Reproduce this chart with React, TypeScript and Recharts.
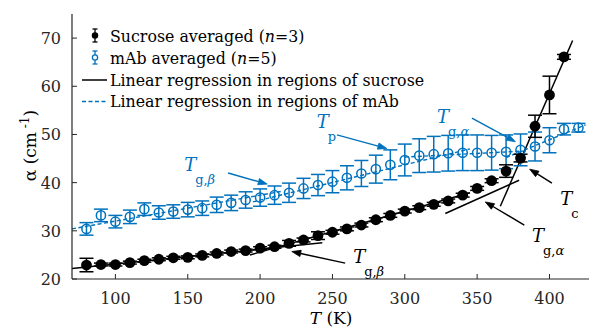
import React from "react";
import {
  ComposedChart,
  Scatter,
  Line,
  XAxis,
  YAxis,
  ErrorBar,
  ReferenceLine,
  ReferenceDot,
} from "recharts";

const BLUE = "#0072BD";
const AX = "#262626";
const FONT = '"DejaVu Serif", "Liberation Serif", serif';
const serif = { fontFamily: FONT };

// sucrose, averaged over 3 samples
const sucroseT = [
  80, 90, 100, 110, 120, 130, 140, 150, 160, 170, 180, 190, 200, 210, 220, 230, 240,
  250, 260, 270, 280, 290, 300, 310, 320, 330, 340, 350, 360, 370, 380, 390, 400, 410,
];
const sucroseAlpha = [
  22.9, 23.0, 23.0, 23.4, 23.8, 24.1, 24.4, 24.5, 24.9, 25.3, 25.7, 25.9, 26.4, 26.7, 27.4, 28.1, 29.0,
  29.7, 30.4, 31.2, 32.3, 33.2, 34.1, 34.8, 35.5, 36.2, 37.4, 38.8, 40.4, 42.4, 45.1, 51.7, 58.2, 66.1,
];
const sucroseErr = [
  1.4, 0.3, 0.3, 0.3, 0.3, 0.3, 0.3, 0.3, 0.3, 0.3, 0.3, 0.3, 0.3, 0.3, 0.6, 0.4, 0.8,
  0.4, 0.4, 0.4, 0.4, 0.4, 0.4, 0.4, 0.4, 0.4, 0.4, 0.4, 0.4, 1.3, 0.8, 2.3, 3.9, 0.5,
];

// mAb, averaged over 5 samples
const mabT = [
  80, 90, 100, 110, 120, 130, 140, 150, 160, 170, 180, 190, 200, 210, 220, 230, 240, 250,
  260, 270, 280, 290, 300, 310, 320, 330, 340, 350, 360, 370, 380, 390, 400, 410, 420,
];
const mabAlpha = [
  30.4, 33.2, 31.9, 32.9, 34.5, 33.8, 34.0, 34.4, 34.7, 35.4, 35.8, 36.4, 36.9, 37.4, 37.9, 38.8, 39.5, 40.2,
  41.0, 41.9, 42.8, 43.7, 44.7, 45.6, 45.9, 46.1, 46.2, 46.2, 46.2, 46.4, 46.8, 47.5, 48.8, 51.1, 51.4,
];
const mabErr = [
  1.3, 1.3, 1.3, 1.4, 1.3, 1.4, 1.4, 1.5, 1.5, 1.6, 1.6, 1.7, 1.8, 1.9, 2.0, 2.1, 2.2, 2.3,
  2.5, 2.7, 2.9, 3.1, 3.3, 3.5, 3.7, 3.7, 3.7, 3.7, 3.6, 3.5, 3.3, 3.0, 2.6, 1.2, 0.9,
];

// regression segments [T0, a0, T1, a1]
const sucroseFits = [
  [70, 22.2, 243, 27.5],
  [193, 25.0, 345, 37.9],
  [328, 33.6, 379, 40.5],
  [366, 35.1, 416, 69.5],
];
const mabFits = [
  [70, 30.4, 215, 38.2],
  [195, 36.0, 345, 47.0],
  [300, 45.3, 385, 46.6],
  [370, 45.2, 425, 52.0],
];

// annotations: subscript, which series, label anchor, arrow start, arrow tip
const notes = [
  { sub: "p", greek: "", series: "mab", at: [239.2, 51.3], from: [253.1, 49.9], to: [287.6, 47.1] },
  { sub: "g,", greek: "α", series: "mab", at: [322.2, 52.3], from: [346.4, 53.4], to: [376.4, 48.5] },
  { sub: "g,", greek: "β", series: "mab", at: [147.5, 42.4], from: [177.9, 42.0], to: [204.9, 39.7] },
  { sub: "g,", greek: "β", series: "sucrose", at: [264.3, 23.3], from: [258.8, 23.3], to: [221.9, 25.7] },
  { sub: "g,", greek: "α", series: "sucrose", at: [387.9, 27.7], from: [382.6, 31.2], to: [355.6, 36.0] },
  { sub: "c", greek: "", series: "sucrose", at: [407.5, 35.4], from: [401.7, 39.9], to: [386.3, 42.8] },
];

const xTicks = [100, 150, 200, 250, 300, 350, 400];
const yTicks = [20, 30, 40, 50, 60, 70];

const sucroseData = sucroseT.map((T, i) => ({ T, a: sucroseAlpha[i], e: sucroseErr[i] }));
const mabData = mabT.map((T, i) => ({ T, a: mabAlpha[i], e: mabErr[i] }));
const toSeg = (f: number[]) => [
  { T: f[0], a: f[1] },
  { T: f[2], a: f[3] },
];

const BottomTick = (p: any) => (
  <g>
    <line x1={p.x} y1={p.y} x2={p.x} y2={p.y - 5} stroke={AX} />
    <text x={p.x} y={p.y + 25} textAnchor="middle" fontSize={16} fill={AX} style={serif}>
      {p.payload.value}
    </text>
  </g>
);
const TopTick = (p: any) => <line x1={p.x} y1={p.y} x2={p.x} y2={p.y + 5} stroke={AX} />;
const LeftTick = (p: any) => (
  <g>
    <line x1={p.x} y1={p.y} x2={p.x + 5} y2={p.y} stroke={AX} />
    <text x={p.x - 11} y={p.y + 6} textAnchor="end" fontSize={16} fill={AX} style={serif}>
      {p.payload.value}
    </text>
  </g>
);
const RightTick = (p: any) => <line x1={p.x} y1={p.y} x2={p.x - 5} y2={p.y} stroke={AX} />;

const arrow = (color: string) => (p: any) => {
  const { x1, y1, x2, y2 } = p;
  const ang = Math.atan2(y2 - y1, x2 - x1);
  const L = 9;
  const W = 3.2;
  const bx = x2 - L * Math.cos(ang);
  const by = y2 - L * Math.sin(ang);
  const pts = `${x2},${y2} ${bx - W * Math.sin(ang)},${by + W * Math.cos(ang)} ${bx + W * Math.sin(ang)},${by - W * Math.cos(ang)}`;
  return (
    <g>
      <line x1={x1} y1={y1} x2={bx} y2={by} stroke={color} strokeWidth={1.4} />
      <polygon points={pts} fill={color} stroke={color} strokeWidth={0.8} />
    </g>
  );
};

const noteLabel = (n: (typeof notes)[number], color: string) => (p: any) => (
  <g fill={color} style={serif}>
    <text x={p.cx} y={p.cy} fontSize={18} fontStyle="italic" style={serif}>
      T
    </text>
    <text x={p.cx + 11} y={p.cy + 13} fontSize={13} style={serif}>
      {n.sub}
      {n.greek && <tspan fontStyle="italic">{n.greek}</tspan>}
    </text>
  </g>
);

const dotShape = (p: any) => <circle cx={p.cx} cy={p.cy} r={5.4} fill="#000" />;
const ringShape = (p: any) => (
  <circle cx={p.cx} cy={p.cy} r={4.6} fill="none" stroke={BLUE} strokeWidth={1.5} />
);

function Legend() {
  const rows = [42, 64, 85.5, 107];
  return (
    <svg width={589} height={327} style={{ position: "absolute", left: 0, top: 0, pointerEvents: "none" }}>
      <g stroke="#000" strokeWidth={1.3}>
        <line x1={95} y1={rows[0] - 13} x2={95} y2={rows[0]} />
        <line x1={92.5} y1={rows[0] - 13} x2={97.5} y2={rows[0] - 13} />
        <line x1={92.5} y1={rows[0]} x2={97.5} y2={rows[0]} />
        <circle cx={95} cy={rows[0] - 6.5} r={2.6} fill="#000" />
      </g>
      <g stroke={BLUE} strokeWidth={1.3}>
        <line x1={95} y1={rows[1] - 13} x2={95} y2={rows[1]} />
        <line x1={92.5} y1={rows[1] - 13} x2={97.5} y2={rows[1] - 13} />
        <line x1={92.5} y1={rows[1]} x2={97.5} y2={rows[1]} />
        <circle cx={95} cy={rows[1] - 6.5} r={2.6} fill="#fff" />
      </g>
      <line x1={82} y1={rows[2] - 5.5} x2={107} y2={rows[2] - 5.5} stroke="#000" strokeWidth={1.5} />
      <line x1={82} y1={rows[3] - 5.5} x2={107} y2={rows[3] - 5.5} stroke={BLUE} strokeWidth={1.5} strokeDasharray="4 2.5" />
      <g fontSize={15.8} fill="#000" style={serif}>
        <text x={110} y={rows[0]} style={serif}>
          Sucrose averaged (<tspan fontStyle="italic">n</tspan>=3)
        </text>
        <text x={110} y={rows[1]} style={serif}>
          mAb averaged (<tspan fontStyle="italic">n</tspan>=5)
        </text>
        <text x={110} y={rows[2]} style={serif}>
          Linear regression in regions of sucrose
        </text>
        <text x={110} y={rows[3]} style={serif}>
          Linear regression in regions of mAb
        </text>
      </g>
    </svg>
  );
}

export default function App() {
  return (
    <div
      style={{
        position: "absolute",
        left: 0,
        top: 0,
        width: 589,
        height: 327,
        overflow: "hidden",
        background: "#fff",
        fontFamily: FONT,
      }}
    >
      <ComposedChart width={600} height={327} margin={{ top: 14, right: 10, bottom: 0, left: 0 }}>
        <XAxis
          dataKey="T"
          type="number"
          domain={[70, 428]}
          ticks={xTicks}
          height={48}
          tickSize={0}
          tickMargin={0}
          tickLine={false}
          tick={(p: any) => <BottomTick {...p} />}
          axisLine={{ stroke: AX, strokeWidth: 1.2 }}
          allowDataOverflow
          label={{
            content: (l: any) => (
              <text
                x={l.viewBox.x + l.viewBox.width / 2}
                y={l.viewBox.y + 45}
                textAnchor="middle"
                fontSize={17}
                fill="#000"
                style={serif}
              >
                <tspan fontStyle="italic">T</tspan> (K)
              </text>
            ),
          }}
        />
        <XAxis
          xAxisId="top"
          dataKey="T"
          type="number"
          orientation="top"
          domain={[70, 428]}
          ticks={xTicks}
          height={0}
          tickSize={0}
          tickMargin={0}
          tickLine={false}
          tick={(p: any) => <TopTick {...p} />}
          axisLine={{ stroke: AX, strokeWidth: 1.2 }}
          allowDataOverflow
        />
        <YAxis
          type="number"
          domain={[20, 75]}
          ticks={yTicks}
          width={72}
          tickSize={0}
          tickMargin={0}
          tickLine={false}
          tick={(p: any) => <LeftTick {...p} />}
          axisLine={{ stroke: AX, strokeWidth: 1.2 }}
          allowDataOverflow
          label={{
            content: (l: any) => {
              const cy = l.viewBox.y + l.viewBox.height / 2 - 1;
              return (
                <text
                  x={36}
                  y={cy}
                  transform={`rotate(-90, 36, ${cy})`}
                  textAnchor="middle"
                  fontSize={17}
                  fill="#000"
                  style={serif}
                >
                  α (cm
                  <tspan dy={-7} fontSize={12}>
                    {" -1"}
                  </tspan>
                  <tspan dy={7}>)</tspan>
                </text>
              );
            },
          }}
        />
        <YAxis
          yAxisId="right"
          orientation="right"
          type="number"
          domain={[20, 75]}
          ticks={yTicks}
          width={0}
          tickSize={0}
          tickMargin={0}
          tickLine={false}
          tick={(p: any) => <RightTick {...p} />}
          axisLine={{ stroke: AX, strokeWidth: 1.2 }}
          allowDataOverflow
        />

        {mabFits.map((f, i) => (
          <Line
            key={`mf${i}`}
            data={toSeg(f)}
            dataKey="a"
            stroke={BLUE}
            strokeWidth={1.4}
            strokeDasharray="4 2.5"
            dot={false}
            activeDot={false}
            isAnimationActive={false}
          />
        ))}
        {sucroseFits.map((f, i) => (
          <Line
            key={`sf${i}`}
            data={toSeg(f)}
            dataKey="a"
            stroke="#000"
            strokeWidth={1.5}
            dot={false}
            activeDot={false}
            isAnimationActive={false}
          />
        ))}

        <Scatter data={mabData} dataKey="a" shape={ringShape} isAnimationActive={false}>
          <ErrorBar dataKey="e" direction="y" width={7} stroke={BLUE} strokeWidth={1.5} />
        </Scatter>
        <Scatter data={sucroseData} dataKey="a" shape={dotShape} isAnimationActive={false}>
          <ErrorBar dataKey="e" direction="y" width={7} stroke="#000" strokeWidth={1.5} />
        </Scatter>

        {notes.map((n, i) => (
          <ReferenceLine
            key={`na${i}`}
            segment={[
              { x: n.from[0], y: n.from[1] },
              { x: n.to[0], y: n.to[1] },
            ]}
            shape={arrow(n.series === "mab" ? BLUE : "#000")}
          />
        ))}
        {notes.map((n, i) => (
          <ReferenceDot
            key={`nl${i}`}
            x={n.at[0]}
            y={n.at[1]}
            r={1}
            shape={noteLabel(n, n.series === "mab" ? BLUE : "#000")}
          />
        ))}
      </ComposedChart>
      <Legend />
    </div>
  );
}
